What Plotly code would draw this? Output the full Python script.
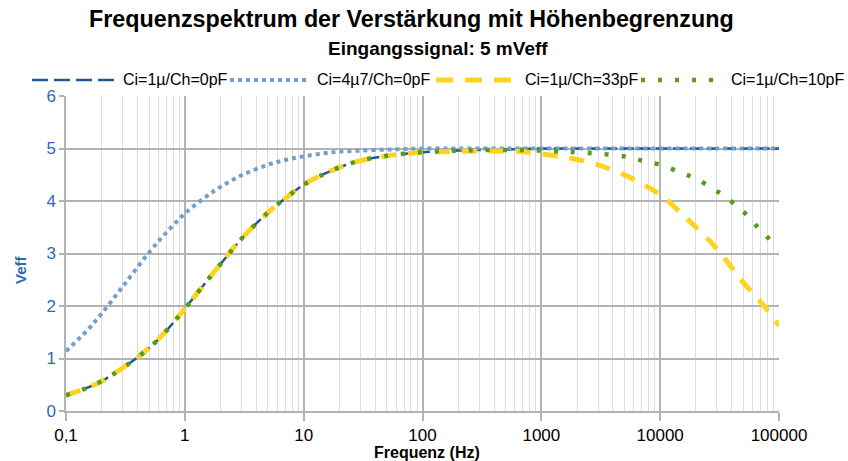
import plotly.graph_objects as go

freq = [0.1, 0.15, 0.2, 0.3, 0.5, 0.7, 1, 1.5, 2, 3, 5, 7, 10, 15, 20, 30, 50, 70,
        100, 150, 200, 300, 500, 700, 1000, 1500, 2000, 3000, 5000, 7000,
        10000, 15000, 20000, 30000, 50000, 70000, 100000]

v_1u_0p = [0.30, 0.44, 0.57, 0.82, 1.20, 1.53, 1.95, 2.45, 2.80, 3.28, 3.78, 4.05,
           4.31, 4.52, 4.64, 4.77, 4.86, 4.90, 4.93, 4.95, 4.96, 4.97, 4.98, 4.99,
           5.0, 5.0, 5.0, 5.0, 5.0, 5.0, 5.0, 5.0, 5.0, 5.0, 5.0, 5.0, 5.0]

v_4u7_0p = [1.14, 1.53, 1.86, 2.37, 3.02, 3.40, 3.76, 4.08, 4.27, 4.49, 4.69, 4.78,
            4.85, 4.91, 4.94, 4.96, 4.98, 4.99, 5.0, 5.0, 5.0, 5.0, 5.0, 5.0,
            5.0, 5.0, 5.0, 5.0, 5.0, 5.0, 5.0, 5.0, 5.0, 5.0, 5.0, 5.0, 5.0]

v_1u_33p = [0.30, 0.44, 0.57, 0.82, 1.20, 1.53, 1.95, 2.45, 2.80, 3.28, 3.78, 4.05,
            4.31, 4.52, 4.64, 4.77, 4.86, 4.90, 4.93, 4.94, 4.95, 4.95, 4.95, 4.94,
            4.90, 4.84, 4.79, 4.69, 4.50, 4.33, 4.12, 3.77, 3.50, 3.09, 2.45, 2.08, 1.63]

v_1u_10p = [0.30, 0.44, 0.57, 0.82, 1.20, 1.53, 1.95, 2.45, 2.80, 3.28, 3.78, 4.05,
            4.31, 4.52, 4.64, 4.77, 4.86, 4.90, 4.93, 4.95, 4.96, 4.97, 4.97, 4.97,
            4.96, 4.94, 4.93, 4.90, 4.85, 4.77, 4.69, 4.54, 4.42, 4.19, 3.80, 3.44, 3.10]

names = ["Ci=1µ/Ch=0pF", "Ci=4µ7/Ch=0pF", "Ci=1µ/Ch=33pF", "Ci=1µ/Ch=10pF"]
x_tickvals = [0.1, 1, 10, 100, 1000, 10000, 100000]
x_ticktext = ["0,1", "1", "10", "100", "1000", "10000", "100000"]

BLUE_TXT = "#2f6bb0"
styles = [
    dict(color="#1f5a96", width=2.5, dash="12px,5px"),
    dict(color="#729fcf", width=4, dash="4px,4px"),
    dict(color="#ffd320", width=5, dash="15px,12px"),
    dict(color="#579d1c", width=4.5, dash="4px,13px"),
]
legend_dash = ["16px,6px", "4px,4px", "17px,12px", "4px,13px"]
series = [v_1u_0p, v_4u7_0p, v_1u_33p, v_1u_10p]

# plot area in pixels (for placing layout text / legend)
L, R, T, B = 66, 779, 96, 411
W, H = R - L, B - T
px = lambda x: (x - L) / W
py = lambda y: (B - y) / H

fig = go.Figure()
for name, vals, st in zip(names, series, styles):
    fig.add_trace(go.Scatter(x=freq, y=vals, name=name, mode="lines", line_shape="spline",
                             line=st, showlegend=False))

# legend drawn as layout shapes + text (long symbol samples as in the original)
legend_sym = [(32, 116), (230, 310), (436, 512), (641, 714)]
legend_txt = [121, 315, 523, 729]
shapes, annotations = [], []
for (x0, x1), xt, name, st, ld in zip(legend_sym, legend_txt, names, styles, legend_dash):
    shapes.append(dict(type="line", xref="paper", yref="paper",
                       x0=px(x0), x1=px(x1), y0=py(80), y1=py(80),
                       line=dict(color=st["color"], width=st["width"], dash=ld)))
    annotations.append(dict(text=name, xref="paper", yref="paper", x=px(xt), y=py(80),
                            xanchor="left", yanchor="middle", showarrow=False,
                            font=dict(size=16, color="black")))

annotations += [
    dict(text="<b>Frequenzspektrum der Verstärkung mit Höhenbegrenzung</b>",
         xref="paper", yref="paper", x=px(411), y=py(19),
         xanchor="center", yanchor="middle", showarrow=False,
         font=dict(size=23.3, color="black")),
    dict(text="<b>Eingangssignal: 5 mVeff</b>",
         xref="paper", yref="paper", x=px(438), y=py(48),
         xanchor="center", yanchor="middle", showarrow=False,
         font=dict(size=19, color="black")),
    dict(text="<b>Veff</b>", xref="paper", yref="paper",
         x=px(20), y=py(270), xanchor="center", yanchor="middle",
         textangle=-90, showarrow=False, font=dict(size=15, color=BLUE_TXT)),
    dict(text="<b>Frequenz (Hz)</b>", xref="paper", yref="paper",
         x=px(427), y=py(452), xanchor="center", yanchor="middle",
         showarrow=False, font=dict(size=16, color="black")),
]

fig.update_layout(
    width=848, height=461,
    margin=dict(l=L, r=848 - R, t=T, b=461 - B),
    paper_bgcolor="white", plot_bgcolor="white",
    font=dict(family="Liberation Sans, Arial, sans-serif", color="black"),
    showlegend=False,
    shapes=shapes,
    annotations=annotations,
)

fig.update_xaxes(type="log", range=[-1, 5], tickvals=x_tickvals, ticktext=x_ticktext,
                 tickfont=dict(size=17, color="black"),
                 showgrid=True, gridcolor="#b3b3b3", gridwidth=1.5,
                 showline=True, linecolor="#b3b3b3", linewidth=1.5,
                 ticks="outside", ticklen=8, tickcolor="#b3b3b3", tickwidth=1.5,
                 minor=dict(showgrid=True, gridcolor="#dcdcdc", gridwidth=1, dtick="D1"),
                 zeroline=False)
fig.update_yaxes(range=[0, 6], dtick=1, tickfont=dict(size=17, color=BLUE_TXT),
                 showgrid=True, gridcolor="#b3b3b3", gridwidth=1.5,
                 showline=True, linecolor="#b3b3b3", linewidth=1.5,
                 ticks="outside", ticklen=5, tickcolor="#b3b3b3", tickwidth=1.5,
                 zeroline=False)

fig.write_html("out.html")
